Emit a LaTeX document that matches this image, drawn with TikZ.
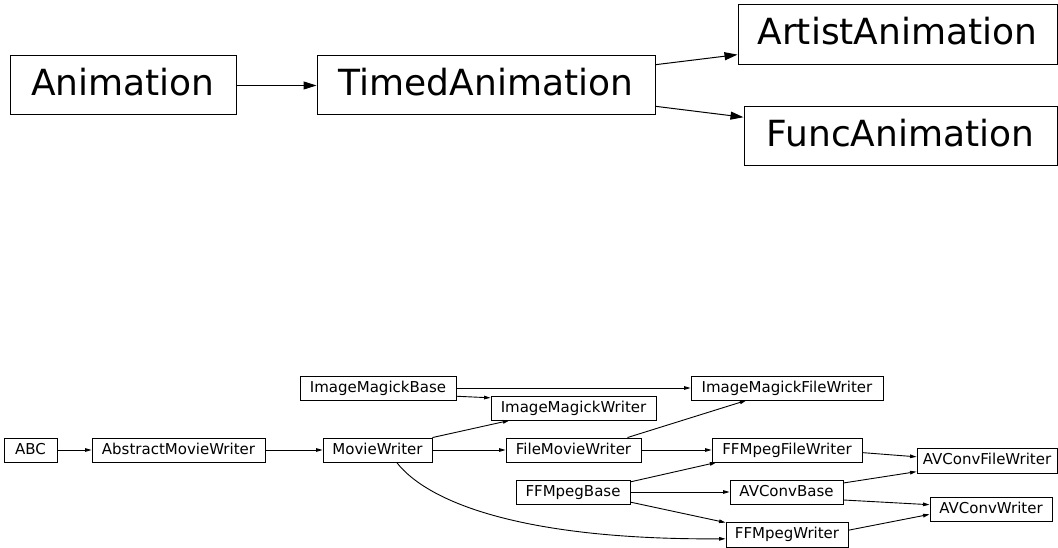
\documentclass[tikz,border=0pt]{standalone}
\usepackage{fontspec}
\setmainfont{DejaVu Sans}
\usetikzlibrary{arrows.meta}
\tikzset{
  big/.style={draw=black, line width=1pt, rectangle, inner sep=0pt, anchor=center,
    font=\fontsize{36}{40}\selectfont, text height=26.4pt, text depth=7.2pt},
  small/.style={draw=black, line width=0.9pt, rectangle, inner sep=0pt, anchor=center,
    font=\fontsize{15}{18}\selectfont, text height=11pt, text depth=3pt, minimum height=24pt},
  bigarrow/.style={line width=1pt, -{Triangle[length=13pt,width=8pt]}},
  smallarrow/.style={line width=0.9pt, -{Triangle[length=6.5pt,width=3.6pt]}},
}
\begin{document}
\begin{tikzpicture}[x=1pt,y=-1pt]
\useasboundingbox (0,0) rectangle (1058,548);
% top
\node[big, minimum width=226pt, minimum height=59pt] (anim) at (123,85.5) {Animation};
\node[big, minimum width=338pt, minimum height=59pt] (timed) at (486,85.5) {TimedAnimation};
\node[big, minimum width=319pt, minimum height=60pt] (artist) at (897.5,35) {ArtistAnimation};
\node[big, minimum width=313pt, minimum height=59pt] (func) at (900.5,136.5) {FuncAnimation};
\draw[bigarrow] (anim.east) -- (timed.west);
\draw[bigarrow] (timed.7) -- (artist.187);
\draw[bigarrow] (timed.-7) -- (func.173);
% bottom
\node[small, minimum width=53pt] (abc) at (30.5,450) {ABC};
\node[small, minimum width=173pt] (amw) at (178.5,450) {AbstractMovieWriter};
\node[small, minimum width=109pt] (mw) at (377.5,450) {MovieWriter};
\node[small, minimum width=135pt] (fmw) at (573.5,450) {FileMovieWriter};
\node[small, minimum width=156pt] (imb) at (378,388) {ImageMagickBase};
\node[small, minimum width=165pt] (imw) at (573.5,408) {ImageMagickWriter};
\node[small, minimum width=192pt] (imfw) at (787,388) {ImageMagickFileWriter};
\node[small, minimum width=150pt] (ffw) at (787,450) {FFMpegFileWriter};
\node[small, minimum width=140pt, minimum height=25pt] (avfw) at (987,460.5) {AVConvFileWriter};
\node[small, minimum width=114pt] (ffb) at (573,492) {FFMpegBase};
\node[small, minimum width=113pt] (avb) at (786.5,492) {AVConvBase};
\node[small, minimum width=122pt] (avw) at (991,509) {AVConvWriter};
\node[small, minimum width=122pt, minimum height=25pt] (ffwr) at (787,534.5) {FFMpegWriter};

\draw[smallarrow] (abc.east) -- (amw.west);
\draw[smallarrow] (amw.east) -- (mw.west);
\draw[smallarrow] (mw.east) -- (fmw.west);
\draw[smallarrow] (mw.north east) -- (imw.191);
\draw[smallarrow] (imb.-6) -- (imw.173);
\draw[smallarrow] (imb.east) -- (imfw.west);
\draw[smallarrow] (fmw.13.4) -- (imfw.197);
\draw[smallarrow] (fmw.east) -- (ffw.west);
\draw[smallarrow] (ffb.10) -- (ffw.190.6);
\draw[smallarrow] (ffb.east) -- (avb.west);
\draw[smallarrow] (ffb.-10.9) -- (ffwr.169.7);
\draw[smallarrow] (mw.-33) .. controls (430,505) and (530,540) .. (ffwr.184);
\draw[smallarrow] (ffw.-2.3) -- (avfw.177.1);
\draw[smallarrow] (avb.9) -- (avfw.189.3);
\draw[smallarrow] (avb.-8) -- (avw.176);
\draw[smallarrow] (ffwr.4.2) -- (avw.185.6);
\end{tikzpicture}
\end{document}
